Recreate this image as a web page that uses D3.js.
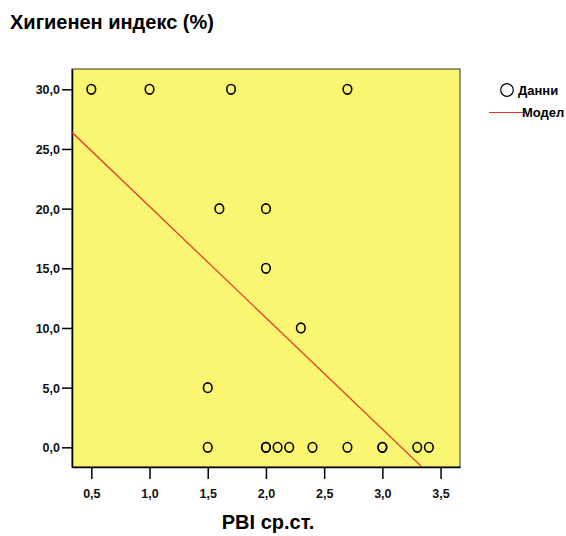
<!DOCTYPE html>
<html>
<head>
<meta charset="utf-8">
<script src="https://cdn.jsdelivr.net/npm/d3@7"></script>
<style>
  html, body { margin: 0; padding: 0; background: #fff; }
  svg { display: block; font-family: "Liberation Sans", Arial, sans-serif; }
</style>
</head>
<body>
<svg id="chart" width="566" height="536"></svg>
<script>
// Observations: PBI average vs. hygiene index (%)
const pbi     = [0.5, 1.0, 1.7, 2.7, 1.6, 2.0, 2.0, 2.3, 1.5, 1.5, 2.0, 2.0, 2.1, 2.2, 2.4, 2.7, 3.0, 3.0, 3.3, 3.4];
const hygiene = [30,  30,  30,  30,  20,  20,  15,  10,  5,   0,   0,   0,   0,   0,   0,   0,   0,   0,   0,   0];

const xTicks = [0.5, 1.0, 1.5, 2.0, 2.5, 3.0, 3.5];
const yTicks = [0, 5, 10, 15, 20, 25, 30];

const titleText  = "Хигиенен индекс (%)";
const xAxisTitle = "PBI ср.ст.";
const legendLabels = ["Данни", "Модел"];

const points = pbi.map((x, i) => ({ x, y: hygiene[i] }));

// Least-squares fit used for the model line
const mx = d3.mean(pbi), my = d3.mean(hygiene);
const sxy = d3.sum(points, p => (p.x - mx) * (p.y - my));
const sxx = d3.sum(points, p => (p.x - mx) ** 2);
const slope = sxy / sxx;
const intercept = my - slope * mx;

const svg = d3.select("#chart");
const plot = { left: 72, top: 69, right: 460, bottom: 467 };

const x = d3.scaleLinear().domain([0.334, 3.667]).range([plot.left, plot.right]);
const y = d3.scaleLinear().domain([-1.65, 31.7]).range([plot.bottom, plot.top]);

const fmt = v => d3.format(".1f")(v).replace(".", ",");

// Title
svg.append("text")
  .attr("x", 10).attr("y", 29)
  .attr("font-size", 20).attr("font-weight", "bold")
  .text(titleText);

// Plot background
svg.append("rect")
  .attr("x", plot.left).attr("y", plot.top)
  .attr("width", plot.right - plot.left).attr("height", plot.bottom - plot.top)
  .attr("fill", "#faf671").attr("stroke", "#333").attr("stroke-width", 1);

svg.append("clipPath").attr("id", "plotClip")
  .append("rect")
  .attr("x", plot.left).attr("y", plot.top)
  .attr("width", plot.right - plot.left).attr("height", plot.bottom - plot.top);

// Axes
const xAxis = d3.axisBottom(x).tickValues(xTicks).tickFormat(fmt).tickSize(12).tickSizeOuter(0).tickPadding(10);
const yAxis = d3.axisLeft(y).tickValues(yTicks).tickFormat(fmt).tickSize(10).tickSizeOuter(0).tickPadding(2);

const gx = svg.append("g").attr("transform", `translate(0,${plot.bottom})`).call(xAxis);
const gy = svg.append("g").attr("transform", `translate(${plot.left},0)`).call(yAxis);

[gx, gy].forEach(g => {
  g.select(".domain").attr("stroke", "#000").attr("stroke-width", 1.5);
  g.selectAll(".tick line").attr("stroke", "#000").attr("stroke-width", 1.5);
  g.selectAll(".tick text")
    .attr("font-family", "Liberation Sans, Arial, sans-serif")
    .attr("font-size", 12.5).attr("font-weight", "bold").attr("fill", "#111");
});
gy.selectAll(".tick text").attr("dy", "0.35em");

// Model line
const x0 = x.domain()[0], x1 = x.domain()[1];
svg.append("line")
  .attr("clip-path", "url(#plotClip)")
  .attr("x1", x(x0)).attr("y1", y(intercept + slope * x0))
  .attr("x2", x(x1)).attr("y2", y(intercept + slope * x1))
  .attr("stroke", "#e8302a").attr("stroke-width", 1.2);

// Data points
svg.append("g").selectAll("ellipse")
  .data(points)
  .join("ellipse")
  .attr("cx", d => x(d.x)).attr("cy", d => y(d.y))
  .attr("rx", 4.3).attr("ry", 4.8)
  .attr("fill", "none").attr("stroke", "#000").attr("stroke-width", 1.6);

// X axis title
svg.append("text")
  .attr("x", (plot.left + plot.right) / 2 + 2).attr("y", 529)
  .attr("text-anchor", "middle")
  .attr("font-size", 20).attr("font-weight", "bold")
  .text(xAxisTitle);

// Legend
const lg = svg.append("g");
lg.append("circle").attr("cx", 507).attr("cy", 90).attr("r", 6.3)
  .attr("fill", "none").attr("stroke", "#000").attr("stroke-width", 1.2);
lg.append("text").attr("x", 518).attr("y", 95)
  .attr("font-size", 13).attr("font-weight", "bold").text(legendLabels[0]);
lg.append("line").attr("x1", 489).attr("x2", 526).attr("y1", 112.5).attr("y2", 112.5)
  .attr("stroke", "#e8302a").attr("stroke-width", 1.2);
lg.append("text").attr("x", 522).attr("y", 117)
  .attr("font-size", 13).attr("font-weight", "bold").text(legendLabels[1]);
</script>
</body>
</html>
